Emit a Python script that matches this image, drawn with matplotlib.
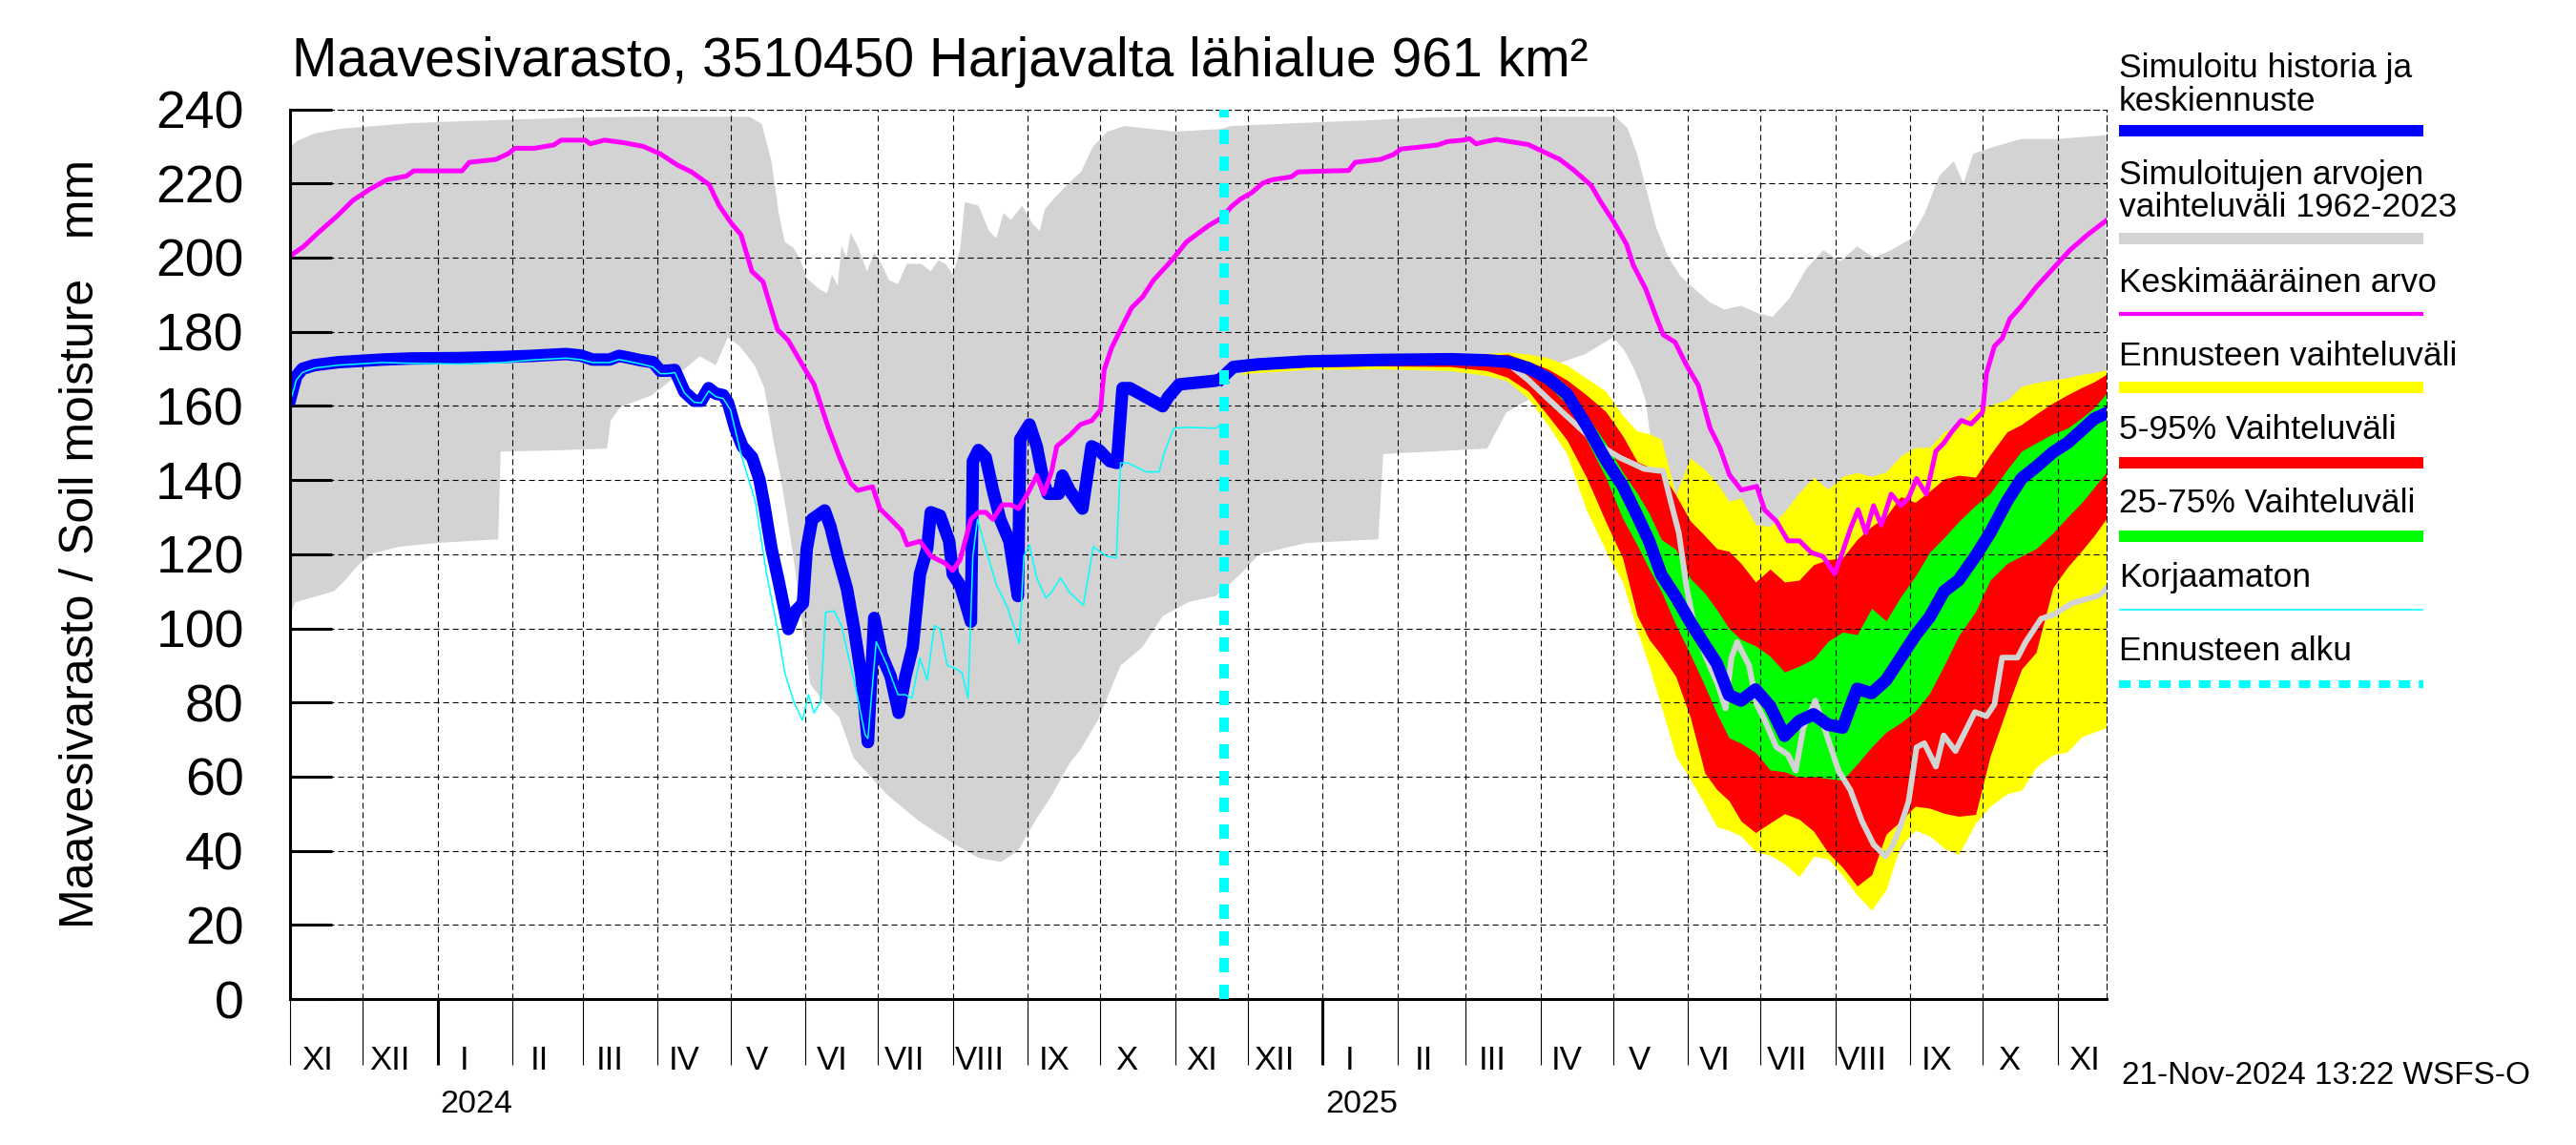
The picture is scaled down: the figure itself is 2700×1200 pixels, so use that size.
import numpy as np
import pandas as pd
import matplotlib
matplotlib.use("Agg")
import matplotlib.pyplot as plt
import matplotlib.dates as mdates
import matplotlib.transforms as mtransforms
from matplotlib.lines import Line2D

plt.rcParams["font.family"] = ["Liberation Sans", "DejaVu Sans"]

# ---------------------------------------------------------------- data
BASE_DATE = "2023-11-01"      # day 0 of every *_day array below
END_DAY = 751                 # 2025-11-21
FORECAST_DATE = "2024-11-21"

TITLE = "Maavesivarasto, 3510450 Harjavalta lähialue 961 km²"
YLABEL = "Maavesivarasto / Soil moisture   mm"
STAMP = "21-Nov-2024 13:22 WSFS-O"
MONTH_LABELS = ["XI", "XII", "I", "II", "III", "IV", "V", "VI", "VII", "VIII", "IX", "X",
                "XI", "XII", "I", "II", "III", "IV", "V", "VI", "VII", "VIII", "IX", "X", "XI"]
YEAR_LABELS = ["2024", "2025"]
YEAR_DATES = ["2024-01-17", "2025-01-17"]
Y_TICKS = list(range(0, 241, 20))

LEGEND_LABELS = [
    ["Simuloitu historia ja", "keskiennuste"],
    ["Simuloitujen arvojen", "vaihteluväli 1962-2023"],
    ["Keskimääräinen arvo"],
    ["Ennusteen vaihteluväli"],
    ["5-95% Vaihteluväli"],
    ["25-75% Vaihteluväli"],
    ["Korjaamaton"],
    ["Ennusteen alku"],
]

# simulated history (blue)
hist_day = [0, 1, 2.5, 5, 10, 20, 38, 50, 70, 88, 100, 114, 120, 125, 132, 136, 140, 145, 150, 153,
            156, 159, 163, 167, 170, 173, 176, 179, 181, 184, 187, 191, 194, 196, 199, 202, 206, 209,
            212, 213.6, 215.8, 218, 221, 223.4, 226.4, 230.2, 233.2, 236.2, 238.9, 241.5, 244.5,
            248.3, 251.6, 254.4, 257.4, 260.4, 263.4, 264.9, 268.7, 272.5, 274, 277, 279.3, 281.5,
            282.3, 284.6, 287.6, 290.6, 293.6, 297.4, 300.9, 301.9, 305.7, 308.7, 311.7, 313.2,
            317.8, 319.3, 322.3, 327.6, 331.4, 334.4, 338.9, 341.9, 344.2, 347.2, 352.5, 360.8,
            363.1, 367.6, 375.2, 382.7, 385.2]
hist_val = [162, 164.5, 168, 170, 171, 171.8, 172.5, 172.8, 172.9, 173.2, 173.5, 174, 173.6, 172.5,
            172.5, 173.5, 173, 172.3, 171.8, 169.5, 169.5, 169.7, 163.8, 161.4, 161.4, 164.8, 163.3,
            162.9, 160.9, 154, 149.1, 146.1, 140.2, 133.3, 121.5, 112.6, 99.8, 104.7, 106.7, 121.5,
            129.4, 130.4, 131.8, 127.4, 119.5, 110.7, 99.8, 87, 69.3, 102.8, 92.9, 87, 77.2, 87,
            94.9, 114.6, 121.5, 131.3, 130.4, 123.5, 114.6, 111.6, 106.7, 101.8, 145.1, 148.1,
            146.1, 137.2, 129.4, 123.5, 108.7, 151, 155, 149.1, 139.2, 136.3, 136.3, 141.2, 137.2,
            132.3, 149.1, 148.1, 145.1, 144.6, 164.8, 164.8, 162.9, 159.9, 162.4, 165.8, 166.3,
            166.8, 167.3]

# uncorrected (cyan)
raw_day = [0, 1, 2.5, 5, 10, 20, 38, 50, 70, 88, 100, 114, 120, 125, 132, 136, 140, 145, 150, 153,
           156, 159, 163, 167, 170, 173, 176, 179, 182, 186.4, 192.4, 197, 201.5, 204.5, 208.3,
           211.8, 214.3, 216.6, 219.3, 221.4, 224.9, 227.9, 231.7, 234.7, 237.7, 238.9, 242.3,
           246.8, 251.3, 254.4, 257.1, 260.4, 263.4, 266.4, 268.7, 271.7, 275.5, 277.8, 280.3,
           282.3, 284.2, 287.6, 292.1, 296.6, 301.5, 303.4, 305.7, 308.7, 312.5, 314.8, 318.5,
           322.3, 328, 332.1, 337.4, 341.6, 343.4, 346.4, 354, 359.3, 361.6, 365.4, 370.6, 382.7,
           385.2]
raw_val = [161.5, 163.5, 167, 169, 170.2, 171, 171.7, 171.5, 171.3, 171.7, 172.4, 172.9, 172.5,
           171.7, 171.7, 172.5, 172, 171.3, 170.5, 168.7, 168.7, 169, 163.5, 161, 160.8, 164, 162.5,
           162, 159, 147, 134, 114.6, 99.8, 88, 80.1, 75.2, 82.1, 77.2, 80.1, 104.3, 104.7, 100.8,
           90, 81.1, 71.3, 70.3, 96.4, 90, 82.1, 82.1, 81.1, 92, 86, 100.8, 99.8, 90, 89, 88, 81.1,
           119.5, 129.4, 121.5, 111.6, 105.7, 95.9, 119.5, 122.5, 113.6, 108.2, 109.7, 113.6, 109.7,
           106.2, 122, 119.5, 119, 144.6, 144.6, 142.2, 142.2, 147.6, 154, 154.2, 154, 155]

# long-term mean (magenta)
mean_day = [0, 5.5, 12, 19, 26, 33, 40, 48, 51, 71, 74, 85, 90, 93, 101, 109, 112, 122, 124, 130,
            138, 146, 153, 160, 166, 173.2, 177.3, 182.6, 186.4, 190.9, 195.5, 201.5, 206, 212.1,
            216.6, 222.6, 227.2, 231.7, 234.7, 240.8, 243.8, 248.3, 252.8, 255.1, 260.4, 264.9,
            270.9, 274, 277, 281.5, 284.6, 287.6, 290.6, 294.4, 298.1, 301.2, 304.9, 308.7, 311.7,
            314.8, 317, 322.3, 326.8, 331.4, 335.1, 336.6, 339.7, 343.4, 348, 352.5, 357, 364.6,
            370.6, 379.7, 385.2, 389.1, 393, 397.6, 402.2, 406.1, 414, 416.7, 424.6, 437.7, 440.4,
            450.9, 456.2, 459.4, 466.7, 474.6, 478.5, 485.1, 487.7, 490.4, 494.3, 498.8, 512, 525,
            531, 538, 542, 547.5, 552.7, 555.4, 560.6, 564.6, 567.8, 572.7, 577.5, 582.3, 587.2,
            591.2, 595.2, 600.1, 606.5, 609.7, 614.6, 619.4, 624.2, 629.1, 633.9, 638.7, 641.9,
            645.2, 648.4, 651.6, 654.8, 658, 662.1, 666.1, 669.3, 672.6, 676.6, 680.6, 683.8,
            687.1, 691.1, 695.1, 699.9, 701.5, 704.8, 708, 711.2, 716, 722, 729, 736, 743, 751]
mean_val = [200.5, 203, 207, 211, 215.5, 218.5, 221, 222, 223.4, 223.4, 225.7, 226.5, 228, 229.5,
            229.5, 230.4, 231.7, 231.7, 230.7, 231.7, 231, 230, 228, 225, 223.1, 219.7, 214.1,
            209.1, 206.2, 196.3, 193.5, 180.6, 177.6, 170.7, 165.8, 154, 146.1, 139.2, 137.2, 138.2,
            132.3, 129.4, 126.4, 122.5, 123.5, 119.5, 117.5, 115.6, 118.5, 129.4, 131.3, 131.3,
            129.4, 133.3, 133.3, 132.3, 136.3, 141.2, 136.3, 142.2, 149.1, 152, 155, 156, 158.9,
            169.7, 175.7, 180.6, 186.5, 189.4, 193.9, 199.3, 204.2, 208.6, 210.7, 213.7, 215.8,
            217.5, 220.1, 221, 221.8, 223.1, 223.3, 223.5, 225.7, 226.5, 227.8, 229.3, 229.8, 230.4,
            231.3, 231.7, 232.1, 230.7, 231.3, 231.9, 230.5, 226.5, 223.5, 219.5, 215, 209.5, 203.5,
            198, 191.5, 184.5, 179.2, 177.2, 170.9, 165.6, 154, 148.8, 141.4, 137.3, 138.3, 132,
            128.9, 123.6, 123.6, 120.4, 119.4, 114.7, 120.4, 126.8, 132, 125.7, 133.1, 127.8, 136.2,
            133.1, 135.2, 140.4, 136.2, 147.8, 149.9, 153, 156.1, 155.1, 158.3, 168.8, 176.1, 178.2,
            183.5, 187, 192, 197, 202, 206, 210]

# range of simulated values 1962-2023 (grey): upper and lower edges
range_hi_day = [0, 3, 10, 20, 35, 50, 80, 120, 150, 190, 195, 199, 202, 204.5, 208, 210.6, 213.6,
                219, 222, 224, 226.4, 228, 230, 231.7, 234.7, 238.5, 241.5, 244.5, 247.6, 251.3,
                255, 261, 264.9, 268, 271, 274, 277, 279, 284.6, 289, 292, 295, 298, 302.7, 307,
                310, 312, 316, 320, 324, 327, 332, 338, 345, 366, 385, 389, 417, 440, 470, 500,
                548, 553, 557, 561, 565, 570, 575, 580, 587, 593, 600, 607, 613, 620, 627, 634,
                641, 648, 655, 662, 670, 676, 682, 688, 692, 696, 705, 716, 730, 751]
range_hi = [230, 231.5, 233.5, 234.7, 235.5, 236.3, 237, 237.8, 238, 238, 236, 226, 212, 204.2,
            202.7, 200, 194.4, 191.4, 190.4, 195.4, 192.4, 203.2, 200, 206.7, 203, 196.3, 201.3,
            198.3, 193.9, 192.9, 198.3, 198.3, 196.3, 199.3, 198.3, 195.4, 202.2, 215, 214, 207.2,
            205.2, 212.1, 210.1, 214, 209.1, 207.2, 213, 216, 218.8, 221.4, 223.1, 230, 234, 235.5,
            234, 234.7, 235.5, 236.3, 236.9, 237.8, 238, 238, 235, 228, 218, 208, 200, 195, 192,
            188, 186, 187, 185, 184, 189, 197, 202, 199, 203, 200, 202, 205, 212, 222, 226, 220,
            228, 230, 232, 232, 233]
range_lo_day = [0, 2, 10, 18, 22, 28, 34, 45, 60, 86, 87, 110, 131, 132.5, 136.5, 149.6, 156.2,
                162.8, 169.3, 176, 181, 186, 192, 196, 200, 203, 206, 209, 212, 215, 221, 227, 233,
                247, 260, 274, 285, 294, 301, 308, 315, 322.3, 326.8, 334, 343.4, 352.5, 360.8, 372,
                382.7, 393, 400.7, 420, 450, 452, 495, 503, 513, 521.5, 535.6, 547, 551.7, 555, 558,
                560.6, 562, 566, 571, 576, 580, 592, 600, 612, 625, 639, 650, 659, 666, 673, 680,
                687, 692, 699, 708, 717, 726, 737, 751]
range_lo = [104, 107, 108.5, 110, 112.5, 117, 120.2, 122, 123, 124, 147.7, 148, 148.5, 156, 159.7,
            162.9, 166.3, 169.8, 173.4, 171, 178.5, 176, 171, 165, 150, 140, 128, 115, 100, 85, 80,
            76, 65, 55, 48, 42, 38, 37, 40, 48, 55, 63.6, 67.3, 75.2, 90, 95, 103.3, 107.2, 108.7,
            114.6, 120, 123, 124, 147, 148.5, 158.3, 162, 170.8, 174, 178.5, 175, 171, 166.6,
            161.4, 154, 135, 110, 90, 80, 70, 60, 52, 46, 42, 38, 37, 40, 48, 55, 63, 67, 75, 90,
            95, 103, 107, 109]

# forecast (from 21 Nov 2024)
fc_day = [385.2, 390, 400, 420, 450, 480, 495, 503.4, 512, 520, 528, 536, 544, 551, 557, 562, 567,
          573, 579, 585, 590, 595, 600, 606, 612, 618, 624, 630, 636, 642, 648, 654, 660, 666,
          672, 678, 684, 690, 697, 703, 710, 716, 722, 729, 735, 741, 746, 751]
fc_mean = [167.5, 170.5, 171.2, 172, 172.4, 172.6, 172.3, 171.9, 170.2, 167.5, 163.2, 154.8, 145.5,
           138.5, 130.5, 123.5, 114.5, 108.5, 101.7, 95.5, 90.5, 82, 80.5, 83.5, 79, 71, 75, 76.8,
           74, 73.2, 83.7, 82.5, 86, 92, 98, 103, 110, 113, 119.5, 125.7, 134.3, 140.4, 143.5,
           147.5, 150, 153.5, 156.5, 158]
fc_p25 = [167, 169.5, 170.5, 171.4, 171.8, 171.8, 171.4, 170.8, 169, 165.5, 160.5, 151, 140.8,
          129.7, 122.5, 116, 110, 101, 93, 84.5, 77, 70.5, 69, 66.5, 61.8, 61.3, 59.8, 60, 59.5,
          59, 63.4, 68, 72, 74.5, 77.6, 82.5, 90, 98, 104.5, 113, 117.5, 119.5, 121.5, 125.7, 130,
          134, 138, 142]
fc_p75 = [168, 171, 171.8, 172.6, 173, 173.2, 173.2, 173, 171.5, 169.5, 165.5, 157.5, 150, 142.2,
          136.5, 131, 124, 121.3, 113.5, 109.5, 105, 100, 97, 95.3, 92.5, 88.2, 89.8, 91.8, 96.5,
          99, 98.3, 105.4, 102, 108.5, 114, 120.5, 124.5, 128.8, 133.2, 136.4, 142.8, 147.8, 150,
          152.5, 154, 156.8, 159.5, 163.3]
fc_p05 = [167, 168.8, 169.8, 170.5, 170.8, 170.6, 169.5, 167.7, 164, 157.5, 150.8, 140.8, 128.8,
          119, 103.5, 97, 92.8, 87, 76, 61, 56.5, 53.5, 48, 44.9, 47.5, 50, 48.5, 45.3, 39.5, 35.5,
          30.5, 33.5, 44.5, 48, 52, 51.5, 50.1, 49.3, 49.8, 65.5, 78.5, 89, 93.5, 111, 116.5, 121,
          125, 129.5]
fc_p95 = [168.5, 171.3, 172, 172.8, 173.2, 173.5, 173.7, 174, 172, 170, 167, 163, 158.5, 152, 145,
          143.5, 142.2, 136, 129, 125, 121.5, 120.8, 117.5, 112.5, 116, 112.5, 113, 117.2, 118.5,
          119, 124, 127.5, 130.2, 135.5, 134, 137, 140.3, 141.3, 140.8, 146.8, 153, 155, 157.8,
          160.8, 163, 165, 166.5, 168.5]
fc_min = [166.5, 168.3, 169, 169.8, 170, 169.5, 168.2, 166.7, 162, 155, 147, 132, 121, 112.5, 99.5,
          89.8, 79, 65.5, 59.3, 52.5, 46.5, 45.5, 44, 39.8, 38.8, 36.5, 33, 38.5, 37.8, 33.3, 28,
          24, 29.5, 41.5, 45.5, 44, 40.7, 39, 47.5, 52, 55.4, 56.3, 62.5, 65.9, 66.7, 70.8, 72,
          73.2]
fc_max = [169, 172, 172.5, 173.2, 173.6, 173.9, 174.2, 174.5, 174, 173, 171, 167.5, 164, 157.5,
          153.2, 152.5, 151, 136, 146, 142.8, 139.3, 134.3, 135.2, 128, 127.5, 131.5, 136.5, 140.8,
          137.5, 141, 142, 141, 142.2, 146.5, 148.8, 148.8, 153, 155, 159, 160.3, 161.5, 165.3,
          166.3, 167, 167.6, 168.5, 169, 169.7]

# single light-grey forecast trace
trace_day = [385.2, 400, 450, 503.4, 512, 520, 530, 540, 550, 560, 566, 567.8, 571, 574.3, 577.5,
             580.7, 585.6, 590.4, 593.6, 596, 598.4, 603.3, 606.5, 609.7, 614.6, 619.4, 622.6,
             625.8, 630.7, 635.5, 640.3, 645.2, 650, 654.8, 659.7, 662.9, 666.1, 669.3, 672.6,
             675.8, 680.6, 683.8, 688.7, 691.9, 696.7, 701.5, 704.8, 708, 714.4, 717.7, 724.1, 729,
             737, 748.3, 751.5]
trace_val = [167.5, 171, 172, 171.5, 167, 162, 156, 150, 146, 143, 142.5, 142.5, 134, 125.7, 111,
             100.5, 92, 84.8, 78.4, 92, 96.3, 90, 79.5, 75.3, 68, 65.9, 61.6, 73.2, 80.5, 71.1,
             61.6, 56.4, 48, 41.7, 38.5, 41.7, 46.9, 53.3, 67.9, 69, 62.7, 71.1, 66.9, 71.1, 77.4,
             76.3, 79.5, 92.1, 92.1, 96.3, 102.6, 103.6, 106.8, 108.9, 111]

# ---------------------------------------------------------------- helpers
base_num = mdates.date2num(pd.Timestamp(BASE_DATE))


def X(days):
    return base_num + np.asarray(days, dtype=float)


C_GREY = "#d3d3d3"
C_YEL = "#ffff00"
C_RED = "#ff0000"
C_GRN = "#00ff00"
C_BLUE = "#0000ff"
C_MAG = "#ff00ff"
C_CYAN = "#00ffff"

# ---------------------------------------------------------------- figure
fig = plt.figure(figsize=(27, 12), dpi=100)
ax = fig.add_axes([0.1127, 0.1275, 0.7049, 0.777])

# grey historical band as polygon (upper edge forward, lower edge back)
poly_x = np.concatenate([X(range_hi_day), X(range_lo_day)[::-1]])
poly_y = np.concatenate([np.asarray(range_hi, float), np.asarray(range_lo, float)[::-1]])
ax.fill(poly_x, poly_y, color=C_GREY, lw=0, zorder=0.5)

fx = X(fc_day)
ax.fill_between(fx, fc_min, fc_max, color=C_YEL, lw=0, zorder=1.0)
ax.fill_between(fx, fc_p05, fc_p95, color=C_RED, lw=0, zorder=1.1)
ax.fill_between(fx, fc_p25, fc_p75, color=C_GRN, lw=0, zorder=1.2)

# grid
months = pd.date_range("2023-11-01", "2025-11-01", freq="MS")
month_nums = mdates.date2num(months)
for m in month_nums:
    ax.axvline(m, color="black", lw=0.8, dashes=(5.5, 3.5), zorder=1.5)
for yv in Y_TICKS[1:]:
    ax.axhline(yv, color="black", lw=0.8, dashes=(5.5, 3.5), zorder=1.5)

# lines
ax.plot(X(trace_day), trace_val, color=C_GREY, lw=4.3, zorder=2.0)
ax.plot(X(hist_day), hist_val, color=C_BLUE, lw=9.4, zorder=2.2)
ax.plot(fx, fc_mean, color=C_BLUE, lw=9.4, zorder=2.2)
ax.plot(X(mean_day), mean_val, color=C_MAG, lw=3.6, zorder=2.3)
ax.plot(X(raw_day), raw_val, color=C_CYAN, lw=1.1, zorder=2.4)
ax.axvline(mdates.date2num(pd.Timestamp(FORECAST_DATE)), color=C_CYAN, lw=7.2,
           dashes=(1.5, 1.3), zorder=2.6)

# axes cosmetics
ax.set_xlim(X(0), X(END_DAY))
ax.set_ylim(0, 240)
ax.set_yticks(Y_TICKS)
ax.set_yticklabels([str(v) for v in Y_TICKS])
ax.tick_params(axis="y", direction="in", length=32, width=2.2, labelsize=40, pad=35,
               right=False, colors="black")
jan_nums = [m for m, d in zip(month_nums, months) if d.month == 1]
ax.set_xticks(jan_nums)
ax.set_xticks(month_nums, minor=True)
ax.tick_params(axis="x", which="major", direction="out", length=50, width=2.2,
               labelbottom=False, top=False)
ax.tick_params(axis="x", which="minor", direction="out", length=50, width=0.8,
               labelbottom=False, top=False)
for s in ("left", "bottom"):
    ax.spines[s].set_linewidth(2.2)
for s in ("top", "right"):
    ax.spines[s].set_linewidth(0.8)
    ax.spines[s].set_linestyle((0, (5.5, 3.5)))

trans = mtransforms.blended_transform_factory(ax.transData, ax.transAxes)
for m, lab in zip(months, MONTH_LABELS):
    ax.text(mdates.date2num(m) + 11, -0.051, lab, transform=trans, ha="center", va="top",
            fontsize=25)
for d, lab in zip(YEAR_DATES, YEAR_LABELS):
    ax.text(mdates.date2num(pd.Timestamp(d)), -0.1016, lab, transform=trans, ha="center",
            va="top", fontsize=24.5)

fig.text(0.1133, 0.946, TITLE, fontsize=41, ha="left", va="center")
fig.text(0.0315, 0.525, YLABEL, fontsize=36, rotation=90, ha="center", va="center")
fig.text(0.8237, 0.060, STAMP, fontsize=24, ha="left", va="center")

# legend (drawn manually, right of the plot)
leg_x0, leg_x1 = 2221 / 2700, 2540 / 2700
text_rows = [[72, 106.3], [183.4, 217.7], [296.5], [373.7], [450.8], [528], [605], [682]]
line_rows = [137, 250.2, 329, 406.2, 485, 562, 639.3, 716.5]
styles = [dict(color=C_BLUE, lw=8.6), dict(color=C_GREY, lw=8.6), dict(color=C_MAG, lw=3.0),
          dict(color=C_YEL, lw=8.6), dict(color=C_RED, lw=8.6), dict(color=C_GRN, lw=8.6),
          dict(color=C_CYAN, lw=1.1), dict(color=C_CYAN, lw=5.8, dashes=(1.5, 1.1))]
for labels, ty, ly, st in zip(LEGEND_LABELS, text_rows, line_rows, styles):
    for lab, yy in zip(labels, ty):
        fig.text(leg_x0, 1 - yy / 1200, lab, fontsize=25.5, ha="left", va="center")
    fig.add_artist(Line2D([leg_x0, leg_x1], [1 - ly / 1200] * 2, transform=fig.transFigure,
                          solid_capstyle="butt", **st))

fig.savefig("out.png", dpi=100)
